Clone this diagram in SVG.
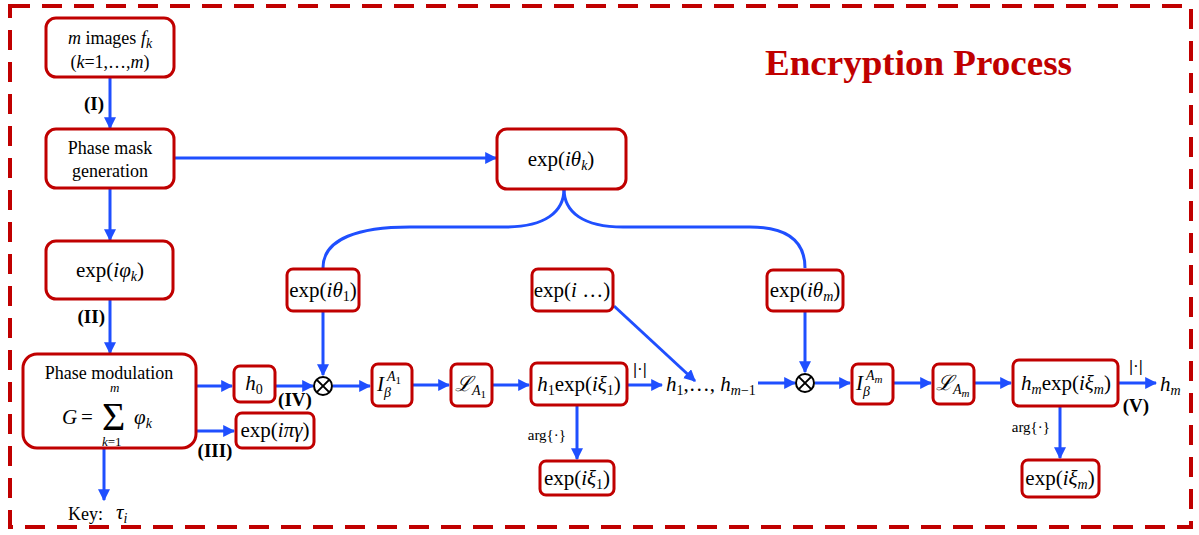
<svg xmlns="http://www.w3.org/2000/svg" width="1199" height="535" viewBox="0 0 1199 535">
  <style>
    .box { fill: #ffffff; stroke: #c00000; stroke-width: 3; }
    .wire { fill: none; stroke: #1f4fff; stroke-width: 3; }
    .arrow { fill: none; stroke: #1f4fff; stroke-width: 3; marker-end: url(#head); }
    .txt { font-family: "Liberation Serif", "DejaVu Serif", serif; font-size: 18px; fill: #000; }
    .math { font-family: "Liberation Serif", "DejaVu Serif", serif; font-size: 21px; fill: #000; }
    .it { font-style: italic; }
    .sub { font-size: 14px; }
    .sub2 { font-size: 11px; }
    .lim { font-family: "Liberation Serif", serif; font-size: 13px; fill: #000; }
    .step { font-family: "Liberation Serif", serif; font-size: 19px; font-weight: bold; fill: #000; }
    .small { font-family: "Liberation Serif", serif; font-size: 15px; fill: #000; }
    .abs { font-family: "DejaVu Serif", serif; font-size: 15px; fill: #000; }
  </style>
  <defs>
    <marker id="head" viewBox="0 0 10 10" refX="9" refY="5" markerWidth="4" markerHeight="4" orient="auto" markerUnits="strokeWidth">
      <path d="M0,0 L10,5 L0,10 z" fill="#1f4fff"/>
    </marker>
  </defs>

  <!-- dashed frame -->
  <rect x="10" y="6" width="1181" height="521" fill="none" stroke="#c00000" stroke-width="4" stroke-dasharray="20 12"/>
  <text x="765" y="75" font-family="Liberation Serif, serif" font-size="36" font-weight="bold" fill="#c00000" textLength="307" lengthAdjust="spacingAndGlyphs">Encryption Process</text>

  <!-- connectors -->
  <g id="connectors">
    <path class="arrow" d="M110,77 V128"/>
    <path class="arrow" d="M174,158 H496"/>
    <path class="arrow" d="M110,188 V240"/>
    <path class="arrow" d="M110,299 V353"/>
    <path class="arrow" d="M196,386 H232"/>
    <path class="arrow" d="M196,431 H234"/>
    <path class="arrow" d="M104,448 V500"/>
    <path class="arrow" d="M275,386 H313"/>
    <path class="arrow" d="M323,311 V375"/>
    <path class="arrow" d="M333,386 H370"/>
    <path class="arrow" d="M412,385 H449"/>
    <path class="arrow" d="M492,385 H529"/>
    <path class="arrow" d="M627,385 H662"/>
    <path class="arrow" d="M577,405 V459"/>
    <path class="arrow" d="M614,306 L695,381"/>
    <path class="arrow" d="M758,383 H795"/>
    <path class="arrow" d="M805,311 V372"/>
    <path class="arrow" d="M815,383 H850"/>
    <path class="arrow" d="M893,383 H931"/>
    <path class="arrow" d="M974,383 H1011"/>
    <path class="arrow" d="M1118,383 H1156"/>
    <path class="arrow" d="M1060,406 V458"/>
    <!-- brace splitting the mask to the first and last stage -->
    <path class="wire" d="M564,189 C564,212 545,227 505,227 L410,227 C360,227 323,238 323,268"/>
    <path class="wire" d="M564,189 C564,212 583,227 623,227 L750,227 C785,227 805,240 805,268"/>
  </g>

  <g id="n-images">
    <rect class="box" x="46" y="18" width="128" height="59" rx="10"/>
    <text class="txt" x="110" y="44" text-anchor="middle"><tspan class="it">m</tspan> images <tspan class="it">f</tspan><tspan class="sub it" dy="4">k</tspan></text>
    <text class="txt" x="110" y="68" text-anchor="middle">(<tspan class="it">k</tspan>=1,…,<tspan class="it">m</tspan>)</text>
  </g>
  <text class="step" x="104" y="110" text-anchor="end">(I)</text>

  <g id="n-mask">
    <rect class="box" x="46" y="129" width="128" height="59" rx="10"/>
    <text class="txt" x="110" y="154" text-anchor="middle">Phase mask</text>
    <text class="txt" x="110" y="177" text-anchor="middle">generation</text>
  </g>

  <g id="n-theta-k">
    <rect class="box" x="497" y="129" width="129" height="60" rx="10"/>
    <text class="math" x="561" y="166" text-anchor="middle">exp(<tspan class="it">iθ</tspan><tspan class="sub it" dy="4">k</tspan><tspan dy="-4">)</tspan></text>
  </g>

  <g id="n-phi-k">
    <rect class="box" x="46" y="241" width="127" height="58" rx="10"/>
    <text class="math" x="110" y="277" text-anchor="middle">exp(<tspan class="it">iφ</tspan><tspan class="sub it" dy="4">k</tspan><tspan dy="-4">)</tspan></text>
  </g>
  <text class="step" x="105" y="323" text-anchor="end">(II)</text>

  <g id="n-modulation">
    <rect class="box" x="23" y="354" width="173" height="94" rx="14"/>
    <text class="txt" x="109" y="379" text-anchor="middle">Phase modulation</text>
    <text class="math it" x="62" y="424">G</text>
    <text class="math" x="81" y="424">=</text>
    <text x="102" y="430" font-family="Liberation Serif, serif" font-size="40">Σ</text>
    <text class="lim it" x="110" y="392">m</text>
    <text class="lim" x="102" y="446"><tspan class="it">k</tspan>=1</text>
    <text class="math it" x="134" y="424">φ<tspan class="sub" dy="4">k</tspan></text>
  </g>

  <g id="n-h0">
    <rect class="box" x="234" y="366" width="41" height="36" rx="6"/>
    <text class="math it" x="254" y="390" text-anchor="middle">h<tspan class="sub" font-style="normal" dy="4">0</tspan></text>
  </g>
  <text class="step" x="295" y="406" text-anchor="middle">(IV)</text>

  <g id="n-gamma">
    <rect class="box" x="236" y="413" width="78" height="35" rx="6"/>
    <text class="math" x="275" y="437" text-anchor="middle">exp(<tspan class="it">iπγ</tspan>)</text>
  </g>
  <text class="step" x="215" y="457" text-anchor="middle">(III)</text>

  <g id="n-key">
    <text class="txt" x="68" y="520" font-size="17">Key:</text>
    <text class="math it" x="116" y="519">τ<tspan class="sub" dy="4">i</tspan></text>
  </g>

  <g id="n-theta-1">
    <rect class="box" x="287" y="269" width="72" height="42" rx="6"/>
    <text class="math" x="323" y="297" text-anchor="middle">exp(<tspan class="it">iθ</tspan><tspan class="sub" dy="4">1</tspan><tspan dy="-4">)</tspan></text>
  </g>

  <g id="n-mul-1">
    <circle cx="323" cy="386" r="9" fill="#fff" stroke="#000" stroke-width="2"/>
    <path d="M316.6,379.6 L329.4,392.4 M329.4,379.6 L316.6,392.4" stroke="#000" stroke-width="2"/>
  </g>

  <g id="n-I-1">
    <rect class="box" x="372" y="364" width="40" height="42" rx="6"/>
    <text class="math it" x="377" y="391">I</text>
    <text class="sub it" x="384" y="397">β</text>
    <text class="sub it" x="387" y="381">A<tspan class="sub2" font-style="normal" dy="3">1</tspan></text>
  </g>

  <g id="n-L-1">
    <rect class="box" x="451" y="364" width="41" height="42" rx="6"/>
    <text class="math it" x="455" y="391">ℒ<tspan class="sub" dy="4">A</tspan><tspan class="sub2" font-style="normal" dy="3">1</tspan></text>
  </g>

  <g id="n-h1">
    <rect class="box" x="531" y="363" width="96" height="42" rx="6"/>
    <text class="math" x="579" y="391" text-anchor="middle"><tspan class="it">h</tspan><tspan class="sub" dy="4">1</tspan><tspan dy="-4">exp(</tspan><tspan class="it">iξ</tspan><tspan class="sub" dy="4">1</tspan><tspan dy="-4">)</tspan></text>
  </g>
  <text class="abs" x="640" y="374" text-anchor="middle">|·|</text>
  <text class="small" x="566" y="440" text-anchor="end">arg{·}</text>

  <g id="n-xi-1">
    <rect class="box" x="540" y="461" width="74" height="34" rx="6"/>
    <text class="math" x="577" y="485" text-anchor="middle">exp(<tspan class="it">iξ</tspan><tspan class="sub" dy="4">1</tspan><tspan dy="-4">)</tspan></text>
  </g>

  <g id="n-dots">
    <rect class="box" x="532" y="269" width="81" height="42" rx="6"/>
    <text class="math" x="572" y="297" text-anchor="middle">exp(<tspan class="it">i</tspan> …)</text>
  </g>

  <g id="n-h-mid">
    <text class="math" x="666" y="391"><tspan class="it">h</tspan><tspan class="sub" dy="4">1</tspan><tspan dy="-4">,…, </tspan><tspan class="it">h</tspan><tspan class="sub" dy="4"><tspan class="it">m</tspan>−1</tspan></text>
  </g>

  <g id="n-theta-m">
    <rect class="box" x="767" y="270" width="76" height="41" rx="6"/>
    <text class="math" x="805" y="297" text-anchor="middle">exp(<tspan class="it">iθ</tspan><tspan class="sub it" dy="4">m</tspan><tspan dy="-4">)</tspan></text>
  </g>

  <g id="n-mul-m">
    <circle cx="805" cy="383" r="9" fill="#fff" stroke="#000" stroke-width="2"/>
    <path d="M798.6,376.6 L811.4,389.4 M811.4,376.6 L798.6,389.4" stroke="#000" stroke-width="2"/>
  </g>

  <g id="n-I-m">
    <rect class="box" x="852" y="364" width="41" height="40" rx="6"/>
    <text class="math it" x="856" y="390">I</text>
    <text class="sub it" x="863" y="396">β</text>
    <text class="sub it" x="866" y="380">A<tspan class="sub2" dy="3">m</tspan></text>
  </g>

  <g id="n-L-m">
    <rect class="box" x="933" y="364" width="41" height="40" rx="6"/>
    <text class="math it" x="936" y="390">ℒ<tspan class="sub" dy="4">A</tspan><tspan class="sub2" dy="3">m</tspan></text>
  </g>

  <g id="n-hm">
    <rect class="box" x="1013" y="360" width="105" height="46" rx="6"/>
    <text class="math" x="1066" y="390" text-anchor="middle"><tspan class="it">h</tspan><tspan class="sub it" dy="4">m</tspan><tspan dy="-4">exp(</tspan><tspan class="it">iξ</tspan><tspan class="sub it" dy="4">m</tspan><tspan dy="-4">)</tspan></text>
  </g>
  <text class="abs" x="1136" y="371" text-anchor="middle">|·|</text>
  <text class="step" x="1136" y="412" text-anchor="middle">(V)</text>
  <text class="small" x="1050" y="432" text-anchor="end">arg{·}</text>

  <g id="n-out">
    <text class="math it" x="1160" y="391">h<tspan class="sub" dy="4">m</tspan></text>
  </g>

  <g id="n-xi-m">
    <rect class="box" x="1022" y="460" width="77" height="37" rx="6"/>
    <text class="math" x="1060" y="485" text-anchor="middle">exp(<tspan class="it">iξ</tspan><tspan class="sub it" dy="4">m</tspan><tspan dy="-4">)</tspan></text>
  </g>
</svg>
